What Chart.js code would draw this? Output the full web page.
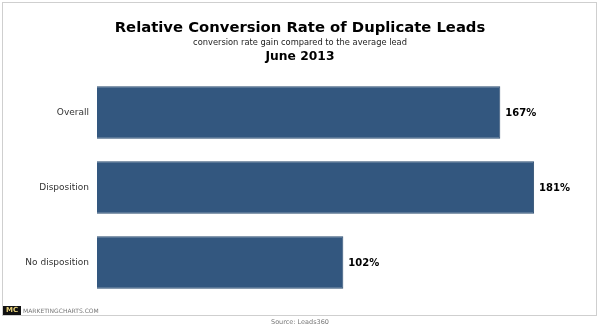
<!DOCTYPE html>
<html>
<head>
<meta charset="utf-8">
<script src="https://cdn.jsdelivr.net/npm/chart.js@4"></script>
<style>
  html, body { margin: 0; padding: 0; background: #fff; }
  #wrap { width: 600px; height: 327px; position: relative; }
</style>
</head>
<body>
<div id="wrap"><canvas id="dupChart" width="600" height="327"></canvas></div>
<script>
var categories = ["Overall", "Disposition", "No disposition"];
var rateGain = [167, 181, 102];
var valueLabels = ["167%", "181%", "102%"];

var titleText = "Relative Conversion Rate of Duplicate Leads";
var subText = "conversion rate gain compared to the average lead";
var dateText = "June 2013";
var sourceText = "Source: Leads360";

//frame, header, logo and source drawn around the chart
var framePlugin = {
    id: 'frame',
    beforeDraw: function(chart) {
        var c = chart.ctx;
        c.save();
        c.fillStyle = '#fff';
        c.fillRect(0, 0, chart.width, chart.height);
        c.strokeStyle = '#cfcfcf';
        c.lineWidth = 1;
        c.strokeRect(2.5, 2.5, 594, 313);
        c.restore();
    },
    afterDraw: function(chart) {
        var c = chart.ctx;
        c.save();
        c.textAlign = 'center';
        c.textBaseline = 'middle';
        c.fillStyle = '#000';
        c.font = 'bold 14.8px "DejaVu Sans"';
        c.fillText(titleText, 300, 28);
        c.font = '8.3px "DejaVu Sans"';
        c.fillStyle = '#222';
        c.fillText(subText, 300, 43);
        c.font = 'bold 12.3px "DejaVu Sans"';
        c.fillStyle = '#000';
        c.fillText(dateText, 300, 57);

        //logo
        c.fillStyle = '#111';
        c.fillRect(3, 306, 18, 9);
        c.fillStyle = '#e8d27a';
        c.font = 'bold 7px "DejaVu Sans"';
        c.fillText("MC", 12, 310.5);
        c.textAlign = 'left';
        c.fillStyle = '#777';
        c.font = '6px "DejaVu Sans"';
        c.fillText("MARKETINGCHARTS.COM", 23, 311);

        c.textAlign = 'center';
        c.fillStyle = '#777';
        c.font = '6.5px "DejaVu Sans"';
        c.fillText(sourceText, 300, 322);

        //value labels at end of bars
        var meta = chart.getDatasetMeta(0);
        c.textAlign = 'left';
        c.fillStyle = '#000';
        c.font = 'bold 10px "DejaVu Sans"';
        meta.data.forEach(function(bar, i) {
            c.fillText(valueLabels[i], bar.x + 5, bar.y + 1);
        });
        c.restore();
    }
};

var ctx = document.getElementById('dupChart').getContext('2d');
var dupChart = new Chart(ctx, {
    type: 'bar',
    data: {
        labels: categories,
        datasets: [{
            data: rateGain,
            backgroundColor: '#33577f',
            borderColor: '#2c4c70',
            borderWidth: 1,
            barPercentage: 0.7,
            categoryPercentage: 1
        }]
    },
    options: {
        indexAxis: 'y',
        responsive: false,
        animation: false,
        layout: {
            padding: { top: 75, right: 20, bottom: 27, left: 0 }
        },
        plugins: {
            legend: { display: false },
            tooltip: { enabled: false }
        },
        scales: {
            x: {
                display: false,
                min: 0,
                max: 200
            },
            y: {
                grid: { display: false, drawTicks: false },
                border: { display: false },
                ticks: {
                    color: '#333',
                    font: { family: 'DejaVu Sans', size: 9 },
                    padding: 8
                },
                afterFit: function(scale) {
                    scale.width = 97;
                }
            }
        }
    },
    plugins: [framePlugin]
});
</script>
</body>
</html>
